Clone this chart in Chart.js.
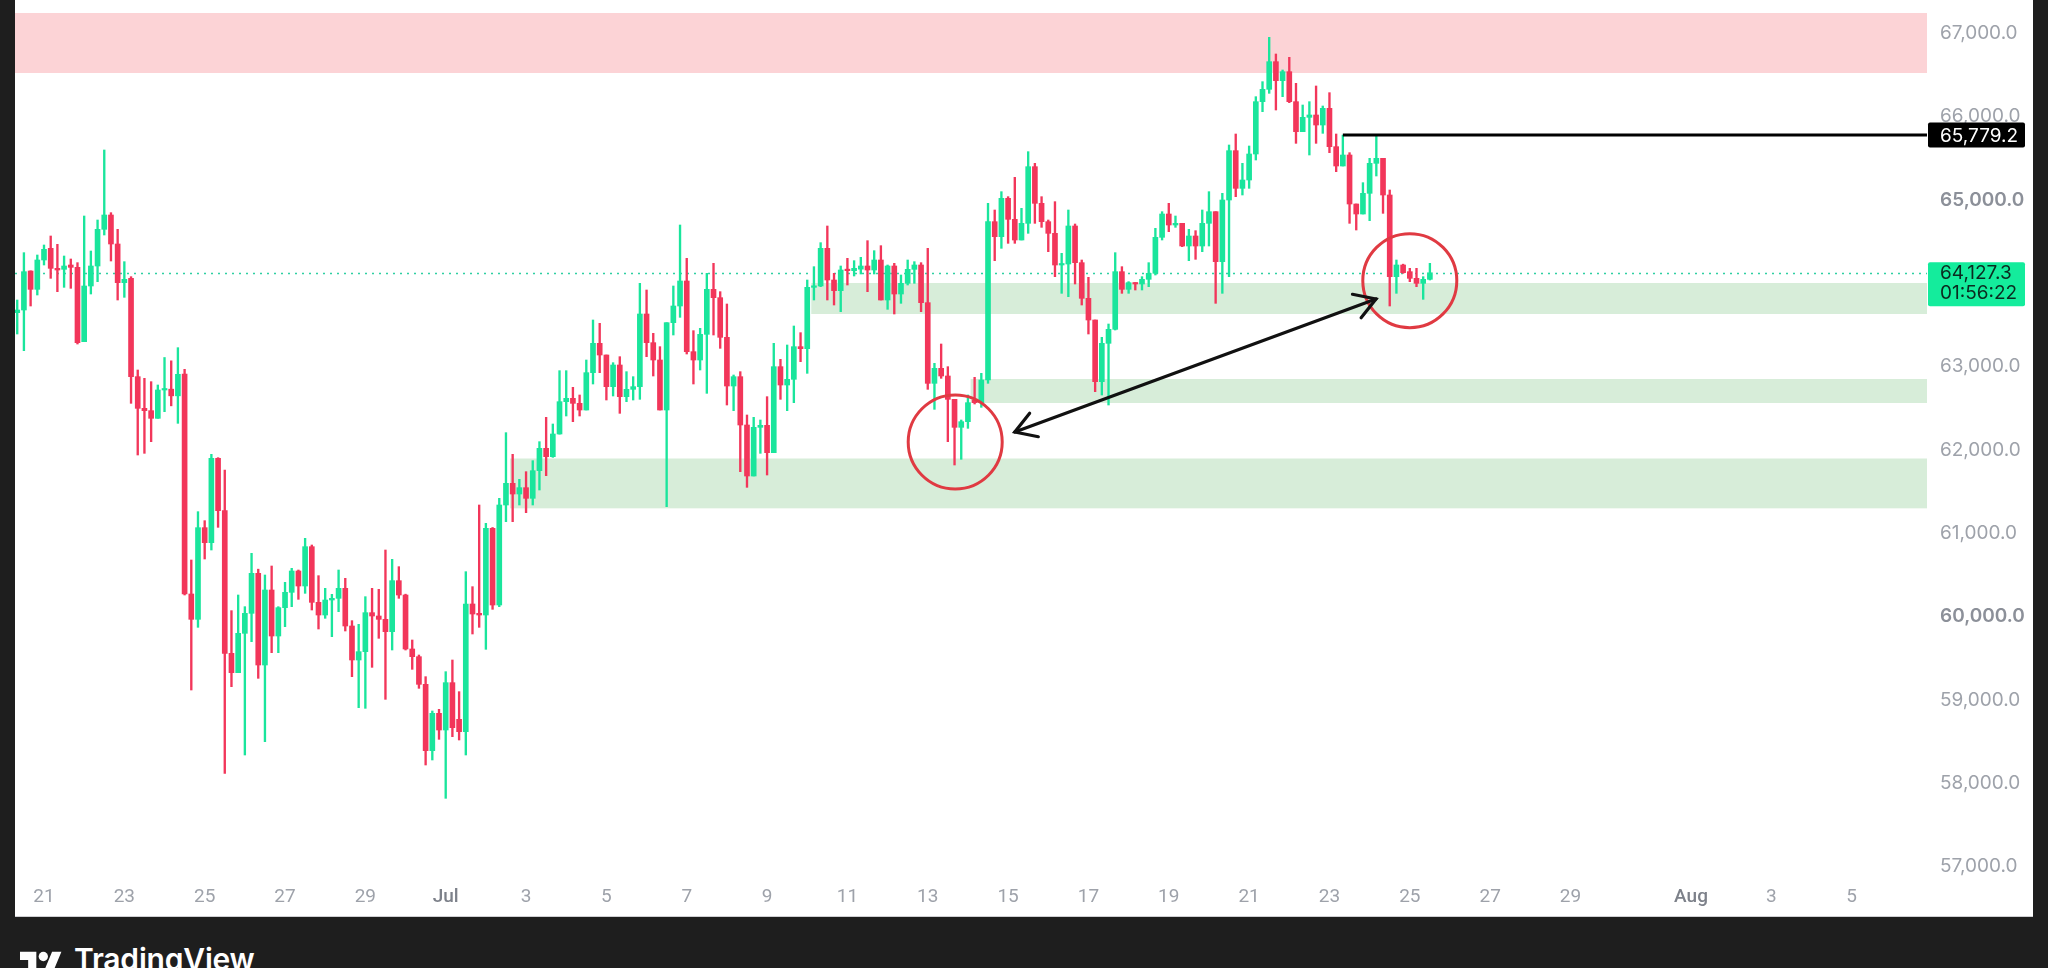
<!DOCTYPE html>
<html>
<head>
<meta charset="utf-8">
<script src="https://cdn.jsdelivr.net/npm/chart.js@4.4.1/dist/chart.umd.min.js"></script>
<style>
  html, body { margin:0; padding:0; width:2048px; height:968px; overflow:hidden; background:#1e1e1e; }
  #panel { position:absolute; left:15px; top:0; width:2018px; height:916px; background:#ffffff; box-shadow:0 1px 0 #cfcfd2; }
  #panel canvas { display:block; }
  #logo { position:absolute; left:20px; top:944px; display:flex; align-items:flex-start; color:#ffffff; }
  #logo svg { margin-top:3px; }
  #logo span { font-family:Inter, "Open Sans", sans-serif; font-weight:600; font-size:30px; line-height:30px; margin-left:12px; letter-spacing:-0.2px; }
</style>
</head>
<body>
<div id="panel"><canvas id="chart" width="2018" height="916"></canvas></div>
<div id="logo">
  <svg width="42" height="33" viewBox="0 0 36 28"><path fill="#ffffff" d="M14 22H7V11H0V4h14v18zM28 22h-8l7.5-18h8L28 22z"/><circle fill="#ffffff" cx="20" cy="8" r="4"/></svg>
  <span>TradingView</span>
</div>
<script>
// ---- data: 4h candles, slot index counted from 21 Jun 00:00 (first candle = slot -4, 20 Jun 08:00)
const firstSlot = -4;
const opens = [
  63648, 63680, 64148, 63928,
  64280, 64420, 64180, 64168, 64220, 64192, 63300, 63968, 64208, 64648,
  64820, 64472, 64008, 64060, 62880, 62500, 62472, 62380, 62720, 62730,
  62650, 62912, 60272, 59968, 61068, 60888, 61900, 61272, 59560, 59328,
  59800, 60040, 60520, 59420, 60320, 59768, 60108, 60292, 60548, 60368,
  60840, 60172, 60020, 60200, 60220, 60340, 59888, 59480, 59580, 60048,
  60008, 59968, 59820, 60432, 60260, 59612, 59520, 59188, 58392, 58840,
  58640, 59208, 58768, 58620, 60152, 60040, 60020, 61060, 60140, 61340,
  61600, 61472, 61548, 61420, 61752, 62020, 61920, 62192, 62580, 62620,
  62560, 62480, 62928, 63280, 63140, 62760, 63020, 62640, 62728, 62760,
  63632, 63288, 63080, 62480, 63528, 63728, 64028, 63180, 63080, 63388,
  63928, 63828, 63352, 62768, 62880, 62300, 61688, 62272, 62296, 61968,
  63000, 62780, 62848, 63240, 63216, 63952, 63968, 64420, 64040, 63912,
  64160, 64152, 64170, 64208, 64160, 64280, 63800, 64208, 63872, 64000,
  64168, 64220, 63768, 62800, 62980, 62888, 62608, 62272, 62340, 62600,
  62568, 62840, 64740, 64560, 65020, 64768, 64520, 64720, 65400, 64960,
  64740, 64600, 64220, 64232, 64688, 64248, 63820, 63560, 62820, 63280,
  63448, 64140, 63928, 64008, 63992, 64048, 64120, 64552, 64832, 64700,
  64720, 64448, 64568, 64448, 64720, 64860, 64260, 65000, 65592, 65140,
  65240, 65552, 66180, 66328, 66660, 66432, 66540, 66180, 65820, 65992,
  66020, 65900, 66100, 65640, 65408, 65540, 64952, 64832, 65080, 65440,
  65500, 65060, 64080, 64220, 64140, 64060, 64000, 64048
];
const highs = [
  63800, 64368, 64150, 64340,
  64460, 64568, 64468, 64328, 64292, 64248, 64808, 64388, 64760, 65600,
  64848, 64648, 64260, 64080, 62960, 62860, 62820, 62780, 63110, 63070,
  63228, 62968, 60680, 61260, 61152, 61948, 61908, 61760, 60072, 60260,
  60120, 60760, 60570, 60500, 60608, 60120, 60412, 60580, 60560, 60940,
  60860, 60492, 60340, 60268, 60560, 60460, 59952, 59908, 60240, 60340,
  60328, 60800, 60688, 60600, 60270, 59720, 59540, 59280, 58868, 58888,
  59340, 59480, 59100, 60540, 60360, 61340, 61120, 61070, 61420, 62208,
  61948, 61648, 61740, 61872, 62100, 62392, 62312, 62952, 62952, 62752,
  62660, 63080, 63560, 63520, 63140, 63048, 63120, 62940, 62880, 64000,
  63920, 63400, 63240, 63528, 63968, 64700, 64300, 63432, 63460, 64120,
  64240, 63900, 63752, 62900, 62940, 62420, 62392, 62360, 62640, 63280,
  63088, 63260, 63488, 63408, 64040, 64200, 64488, 64688, 64120, 64208,
  64300, 64272, 64312, 64512, 64392, 64452, 64220, 64240, 64100, 64280,
  64260, 64248, 64420, 63040, 63272, 63000, 62608, 62360, 62660, 62872,
  62920, 64960, 64880, 65100, 65040, 65272, 64900, 65580, 65440, 65040,
  64760, 64980, 64360, 64880, 64712, 64280, 64072, 63560, 63352, 63512,
  64368, 64200, 64020, 64008, 64080, 64248, 64660, 64860, 64960, 64808,
  64720, 64648, 64632, 64880, 65100, 64860, 65080, 65660, 65792, 65440,
  65648, 66240, 66420, 66952, 66752, 66560, 66712, 66400, 66140, 66180,
  66368, 66128, 66288, 65792, 65779, 65568, 64952, 65208, 65500, 65780,
  65500, 65120, 64280, 64230, 64180, 64180, 64080, 64240
];
const lows = [
  63392, 63192, 63728, 63860,
  64220, 64060, 63900, 63952, 63940, 63272, 63300, 63872, 64020, 64580,
  64268, 63800, 63832, 62560, 61940, 61960, 62100, 62380, 62460, 62530,
  62320, 60260, 59120, 59872, 60692, 60800, 61072, 58120, 59160, 59328,
  58340, 59700, 59260, 58500, 59568, 59568, 59880, 60120, 60208, 60280,
  60080, 59852, 59980, 59760, 60060, 59828, 59280, 58908, 58900, 59392,
  59740, 59008, 59600, 60220, 59600, 59368, 59140, 58220, 58280, 58528,
  57820, 58560, 58520, 58340, 59792, 59872, 59608, 60088, 60120, 61140,
  61140, 61340, 61248, 61340, 61520, 61692, 61912, 62190, 62408, 62340,
  62408, 62480, 62792, 62928, 62600, 62648, 62440, 62580, 62600, 62608,
  63120, 62888, 62480, 61320, 63380, 63592, 63152, 62792, 62960, 62680,
  63380, 63220, 62540, 62472, 61740, 61552, 61688, 61960, 61700, 61968,
  62608, 62472, 62568, 63060, 62920, 63800, 63960, 63800, 63740, 63660,
  63980, 64088, 64112, 63900, 64112, 63800, 63688, 63632, 63760, 63980,
  64000, 63660, 62728, 62488, 62860, 62100, 61820, 61888, 62260, 62552,
  62512, 62800, 64272, 64420, 64480, 64480, 64520, 64600, 64720, 64672,
  64380, 64080, 63880, 63840, 63992, 63740, 63392, 62700, 62660, 62540,
  63440, 63880, 63880, 63920, 63920, 63960, 64100, 64520, 64620, 64672,
  64440, 64272, 64288, 64380, 64448, 63760, 63880, 64080, 65040, 65060,
  65140, 65480, 66060, 66280, 66080, 66240, 66168, 65680, 65820, 65540,
  65680, 65800, 65568, 65340, 65408, 64720, 64640, 64832, 64752, 65288,
  64840, 63728, 63880, 64120, 64020, 63960, 63808, 64040
];
const closes = [
  63680, 64140, 63928, 64280,
  64408, 64180, 64160, 64208, 64192, 63288, 63968, 64208, 64648, 64820,
  64472, 64008, 64048, 62880, 62500, 62472, 62380, 62720, 62730, 62650,
  62908, 60272, 59968, 61068, 60888, 61900, 61272, 59560, 59328, 59800,
  60040, 60520, 59420, 60320, 59768, 60108, 60292, 60548, 60368, 60840,
  60172, 60020, 60200, 60220, 60340, 59888, 59480, 59580, 60048, 60008,
  59968, 59820, 60432, 60260, 59612, 59520, 59188, 58392, 58840, 58640,
  59208, 58668, 58620, 60152, 60032, 60020, 61060, 60140, 61340, 61600,
  61472, 61548, 61420, 61752, 62020, 61920, 62192, 62580, 62620, 62560,
  62480, 62928, 63280, 63140, 62760, 63020, 62640, 62728, 62760, 63632,
  63288, 63080, 62480, 63528, 63728, 64028, 63180, 63080, 63388, 63928,
  63828, 63352, 62768, 62880, 62300, 61688, 62272, 62296, 61968, 63000,
  62780, 62848, 63240, 63216, 63952, 63968, 64420, 64040, 63912, 64160,
  64152, 64180, 64208, 64160, 64280, 63800, 64208, 63872, 64000, 64168,
  64220, 63768, 62800, 62980, 62888, 62608, 62272, 62340, 62568, 62568,
  62840, 64740, 64560, 65020, 64768, 64520, 64720, 65400, 64960, 64740,
  64600, 64220, 64232, 64688, 64248, 63820, 63560, 62820, 63280, 63448,
  64140, 63928, 64008, 63992, 64048, 64120, 64552, 64832, 64700, 64720,
  64448, 64568, 64448, 64720, 64860, 64260, 65000, 65592, 65140, 65240,
  65552, 66180, 66328, 66660, 66432, 66540, 66180, 65820, 65992, 66020,
  65900, 66100, 65640, 65408, 65540, 64952, 64832, 65080, 65440, 65500,
  65060, 64080, 64220, 64128, 64060, 64000, 64048, 64127
];

// x-axis ticks: day offset from 21 Jun, label text
const tickDays   = [0, 2, 4, 6, 8, 10, 12, 14, 16, 18, 20, 22, 24, 26, 28, 30, 32, 34, 36, 38, 41, 43, 45];
const tickLabels = ['21','23','25','27','29','Jul','3','5','7','9','11','13','15','17','19','21','23','25','27','29','Aug','3','5'];
const monthLabels = ['Jul', 'Aug'];
const yTicks = [57000, 58000, 59000, 60000, 61000, 62000, 63000, 64000, 65000, 66000, 67000];
const yMajorTicks = [60000, 65000];

// annotation values (price levels / slot positions)
const supplyZone   = [67244, 66524];          // top, bottom
const demandTops   = [64004, 62852, 61898];
const demandBots   = [63632, 62564, 61300];
const demandStarts = [114.6, 138.4, 69.6];    // slot where each zone begins
const levelPrice = 65779.2, levelStart = 194;
const lastPrice = 64127.3, countdown = '01:56:22';
const circleSlots = [136.1, 204.0], circlePrices = [62096, 64032];
const arrowSlots = [145.0, 198.95], arrowPrices = [62216, 63812];

const GREEN = '#1ae59c', RED = '#f2365a';
const slots = opens.map((_, i) => firstSlot + i);
const candleColors = opens.map((o, i) => closes[i] >= o ? GREEN : RED);
const fmt = v => v.toLocaleString('en-US', {minimumFractionDigits: 1, maximumFractionDigits: 1});
const isMajorY = c => !!(c && c.tick && yMajorTicks.includes(c.tick.value));
const isMonthX = c => !!(c && typeof c.index === 'number' && monthLabels.includes(tickLabels[c.index]));

const overlay = {
  id: 'overlay',
  beforeDatasetsDraw(chart) {
    const {ctx, chartArea: a, scales: {x, y}} = chart;
    ctx.save();
    ctx.beginPath(); ctx.rect(a.left, a.top, a.right - a.left, a.bottom - a.top); ctx.clip();
    ctx.fillStyle = '#fcd3d6';
    const sTop = y.getPixelForValue(supplyZone[0]), sBot = y.getPixelForValue(supplyZone[1]);
    ctx.fillRect(a.left, sTop, a.right - a.left, sBot - sTop);
    ctx.fillStyle = '#d7edd9';
    demandTops.forEach((t, i) => {
      const x0 = x.getPixelForValue(demandStarts[i]);
      const y0 = y.getPixelForValue(t), y1 = y.getPixelForValue(demandBots[i]);
      ctx.fillRect(x0, y0, a.right - x0, y1 - y0);
    });
    const yl = Math.round(y.getPixelForValue(lastPrice)) + 0.5;
    ctx.strokeStyle = '#2fd0a2'; ctx.lineWidth = 1.6; ctx.setLineDash([2, 5]);
    ctx.beginPath(); ctx.moveTo(a.left, yl); ctx.lineTo(a.right, yl); ctx.stroke();
    ctx.restore();
  },
  afterDatasetsDraw(chart) {
    const {ctx, chartArea: a, scales: {x, y}} = chart;
    ctx.save();
    const ly = y.getPixelForValue(levelPrice);
    ctx.strokeStyle = '#000'; ctx.lineWidth = 3;
    ctx.beginPath(); ctx.moveTo(x.getPixelForValue(levelStart), ly); ctx.lineTo(a.right, ly); ctx.stroke();
    ctx.strokeStyle = '#e03a42'; ctx.lineWidth = 3;
    circleSlots.forEach((s, i) => {
      ctx.beginPath();
      ctx.arc(x.getPixelForValue(s), y.getPixelForValue(circlePrices[i]), 47, 0, Math.PI * 2);
      ctx.stroke();
    });
    const p1 = {x: x.getPixelForValue(arrowSlots[0]), y: y.getPixelForValue(arrowPrices[0])};
    const p2 = {x: x.getPixelForValue(arrowSlots[1]), y: y.getPixelForValue(arrowPrices[1])};
    ctx.strokeStyle = '#111'; ctx.lineWidth = 3.2; ctx.lineCap = 'round';
    ctx.beginPath(); ctx.moveTo(p1.x, p1.y); ctx.lineTo(p2.x, p2.y); ctx.stroke();
    const head = (tip, from) => {
      const ang = Math.atan2(tip.y - from.y, tip.x - from.x), L = 24, w = 0.55;
      ctx.beginPath();
      ctx.moveTo(tip.x - L * Math.cos(ang - w), tip.y - L * Math.sin(ang - w));
      ctx.lineTo(tip.x, tip.y);
      ctx.lineTo(tip.x - L * Math.cos(ang + w), tip.y - L * Math.sin(ang + w));
      ctx.stroke();
    };
    head(p1, p2); head(p2, p1);
    ctx.restore();
  },
  afterDraw(chart) {
    const {ctx, chartArea: a, scales: {y}} = chart;
    ctx.save();
    const bx = a.right + 1, bw = 97;
    const ly = y.getPixelForValue(levelPrice);
    ctx.fillStyle = '#000';
    ctx.beginPath(); ctx.roundRect(bx, ly - 12.5, bw, 25, 2); ctx.fill();
    ctx.fillStyle = '#fff'; ctx.font = '19px Inter, "Open Sans", sans-serif';
    ctx.textBaseline = 'middle'; ctx.textAlign = 'left';
    ctx.fillText(fmt(levelPrice), a.right + 13, ly + 1);
    const py = y.getPixelForValue(lastPrice);
    ctx.fillStyle = '#14ec9c';
    ctx.beginPath(); ctx.roundRect(bx, py - 10.5, bw, 44, 2); ctx.fill();
    ctx.fillStyle = '#0b2a1f';
    ctx.fillText(fmt(lastPrice), a.right + 13, py + 1);
    ctx.fillText(countdown, a.right + 13, py + 21);
    ctx.restore();
  }
};

new Chart(document.getElementById('chart'), {
  type: 'bar',
  data: {
    datasets: [
      {
        label: 'wick',
        data: slots.map((s, i) => ({x: s, y: [lows[i], highs[i]]})),
        backgroundColor: candleColors,
        barThickness: 1.7,
        grouped: false,
        order: 2
      },
      {
        label: 'body',
        data: slots.map((s, i) => ({x: s, y: [opens[i], closes[i]]})),
        backgroundColor: candleColors,
        barThickness: 5,
        minBarLength: 1.5,
        grouped: false,
        order: 1
      }
    ]
  },
  options: {
    responsive: false,
    devicePixelRatio: 1,
    animation: false,
    events: [],
    layout: { padding: 0 },
    plugins: { legend: { display: false }, tooltip: { enabled: false } },
    scales: {
      x: {
        type: 'linear',
        offset: false,
        min: -4.332,
        max: 281.25,
        grid: { display: false, drawTicks: false },
        border: { display: false },
        afterBuildTicks: s => { s.ticks = tickDays.map(d => ({value: d * 6})); },
        afterFit: s => { s.height = 36; s.paddingLeft = 0; s.paddingRight = 0; },
        ticks: {
          autoSkip: false, maxRotation: 0, padding: 6,
          callback: (v, i) => tickLabels[i],
          color: c => isMonthX(c) ? '#7d818a' : '#9ea2aa',
          font: c => ({family: 'Roboto', size: 19, weight: isMonthX(c) ? '500' : '400'})
        }
      },
      y: {
        type: 'linear',
        position: 'right',
        min: 56840,
        max: 67400,
        grid: { display: false, drawTicks: false },
        border: { display: false },
        afterBuildTicks: s => { s.ticks = yTicks.map(v => ({value: v})); },
        afterFit: s => { s.width = 106; s.paddingTop = 0; s.paddingBottom = 0; },
        ticks: {
          padding: 13,
          color: c => isMajorY(c) ? '#8c9099' : '#9ea2aa',
          font: c => ({family: 'Inter', size: 19, weight: isMajorY(c) ? '600' : '400'}),
          callback: v => fmt(v)
        }
      }
    }
  },
  plugins: [overlay]
});
</script>
</body>
</html>
